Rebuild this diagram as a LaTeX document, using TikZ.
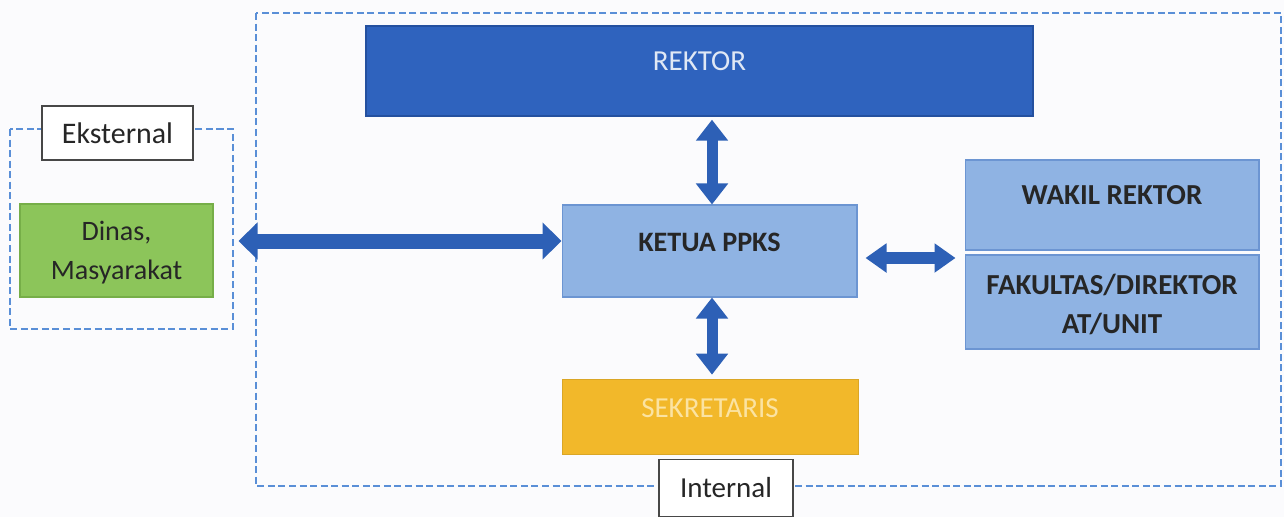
\documentclass[tikz,border=0pt]{standalone}
\usepackage{fontspec}
\setmainfont{Carlito}
\usetikzlibrary{arrows.meta}
\definecolor{bgcol}{HTML}{FBFBFD}
\definecolor{rekblue}{HTML}{2F63BE}
\definecolor{rekedge}{HTML}{24509F}
\definecolor{lightblue}{HTML}{8FB3E3}
\definecolor{lightedge}{HTML}{6C95D2}
\definecolor{greenfill}{HTML}{8CC55A}
\definecolor{greenedge}{HTML}{76AE48}
\definecolor{goldfill}{HTML}{F2B82A}
\definecolor{goldtext}{HTML}{FBE3A2}
\definecolor{arrowblue}{HTML}{2D60B6}
\definecolor{dashblue}{HTML}{5A8FD7}
\definecolor{darktext}{HTML}{262626}
\begin{document}
\begin{tikzpicture}[x=0.02cm,y=-0.02cm,
  box/.style={rectangle,inner sep=0pt,align=center,text=darktext},
  txt/.style={align=center,inner sep=0pt,text=darktext,font=\fontsize{16.5}{22}\selectfont},
  rekbox/.style={box,fill=rekblue,draw=rekedge,line width=0.8pt},
  lbbox/.style={box,fill=lightblue,draw=lightedge,line width=0.6pt},
  grbox/.style={box,fill=greenfill,draw=greenedge,line width=0.6pt},
  gdbox/.style={box,fill=goldfill,draw=goldfill!90!black,line width=0.4pt},
  labelbox/.style={box,fill=white,draw=darktext!85,line width=0.9pt,font=\fontsize{17}{20}\selectfont},
  dashframe/.style={draw=dashblue,line width=1.4pt,dash pattern=on 4pt off 2pt},
  varrow/.style={draw=arrowblue,line width=0.22cm,
    {Triangle[width=0.62cm,length=0.42cm]}-{Triangle[width=0.62cm,length=0.42cm]}},
  harrow/.style={draw=arrowblue,line width=0.24cm,
    {Triangle[width=0.56cm,length=0.42cm]}-{Triangle[width=0.56cm,length=0.42cm]}},
  larrow/.style={draw=arrowblue,line width=0.30cm,
    {Triangle[width=0.72cm,length=0.38cm]}-{Triangle[width=0.72cm,length=0.38cm]}}
]
\useasboundingbox[fill=bgcol] (0,0) rectangle (1284,517);

% frames
\draw[dashframe] (256,13) rectangle (1281,486);
\draw[dashframe] (10,129) rectangle (233,329);

% boxes
\node[rekbox,minimum width=13.34cm,minimum height=1.8cm,
  label={[txt,yshift=0.2cm,text=white!85!rekblue]center:REKTOR}] (rektor) at (699.5,71) {};
\node[lbbox,minimum width=5.9cm,minimum height=1.84cm,
  label={[txt,yshift=0.18cm,font=\fontsize{16}{22}\selectfont\bfseries]center:KETUA PPKS}] (ketua) at (709.5,251) {};
\node[lbbox,minimum width=5.88cm,minimum height=1.8cm,
  label={[txt,yshift=0.2cm,font=\fontsize{16.5}{22}\selectfont\bfseries]center:WAKIL REKTOR}] (wakil) at (1112,205) {};
\node[lbbox,minimum width=5.88cm,minimum height=1.88cm,
  label={[txt,yshift=-0.05cm,font=\fontsize{16.5}{22}\selectfont\bfseries]center:FAKULTAS/DIREKTOR\\AT/UNIT}] (fak) at (1112,302) {};
\node[gdbox,minimum width=5.92cm,minimum height=1.5cm,
  label={[txt,yshift=0.17cm,text=goldtext]center:SEKRETARIS}] (sek) at (710,416.5) {};
\node[grbox,minimum width=3.86cm,minimum height=1.86cm,
  label={[txt,yshift=-0.04cm,font=\fontsize{16}{22}\selectfont]center:Dinas,\\Masyarakat}] (dinas) at (116.5,250.5) {};

% labels
\node[labelbox,minimum width=3.02cm,minimum height=1.08cm] (ekst) at (117.5,133) {Eksternal};
\node[labelbox,minimum width=2.68cm,minimum height=1.14cm,font=\fontsize{16.5}{20}\selectfont] (intl) at (726,488) {Internal};

% connectors
\draw[varrow,shorten <=0.06cm] (rektor.south -| 712,0) -- (ketua.north -| 712,0);
\draw[varrow,shorten >=0.08cm] (ketua.south -| 712,0) -- (sek.north -| 712,0);
\draw[harrow,shorten <=0.16cm,shorten >=0.18cm] (ketua.east |- 0,258) -- (wakil.west |- 0,258);
\draw[larrow,shorten <=0.5cm] (dinas.east |- 0,241) -- (ketua.west |- 0,241);
\end{tikzpicture}
\end{document}
